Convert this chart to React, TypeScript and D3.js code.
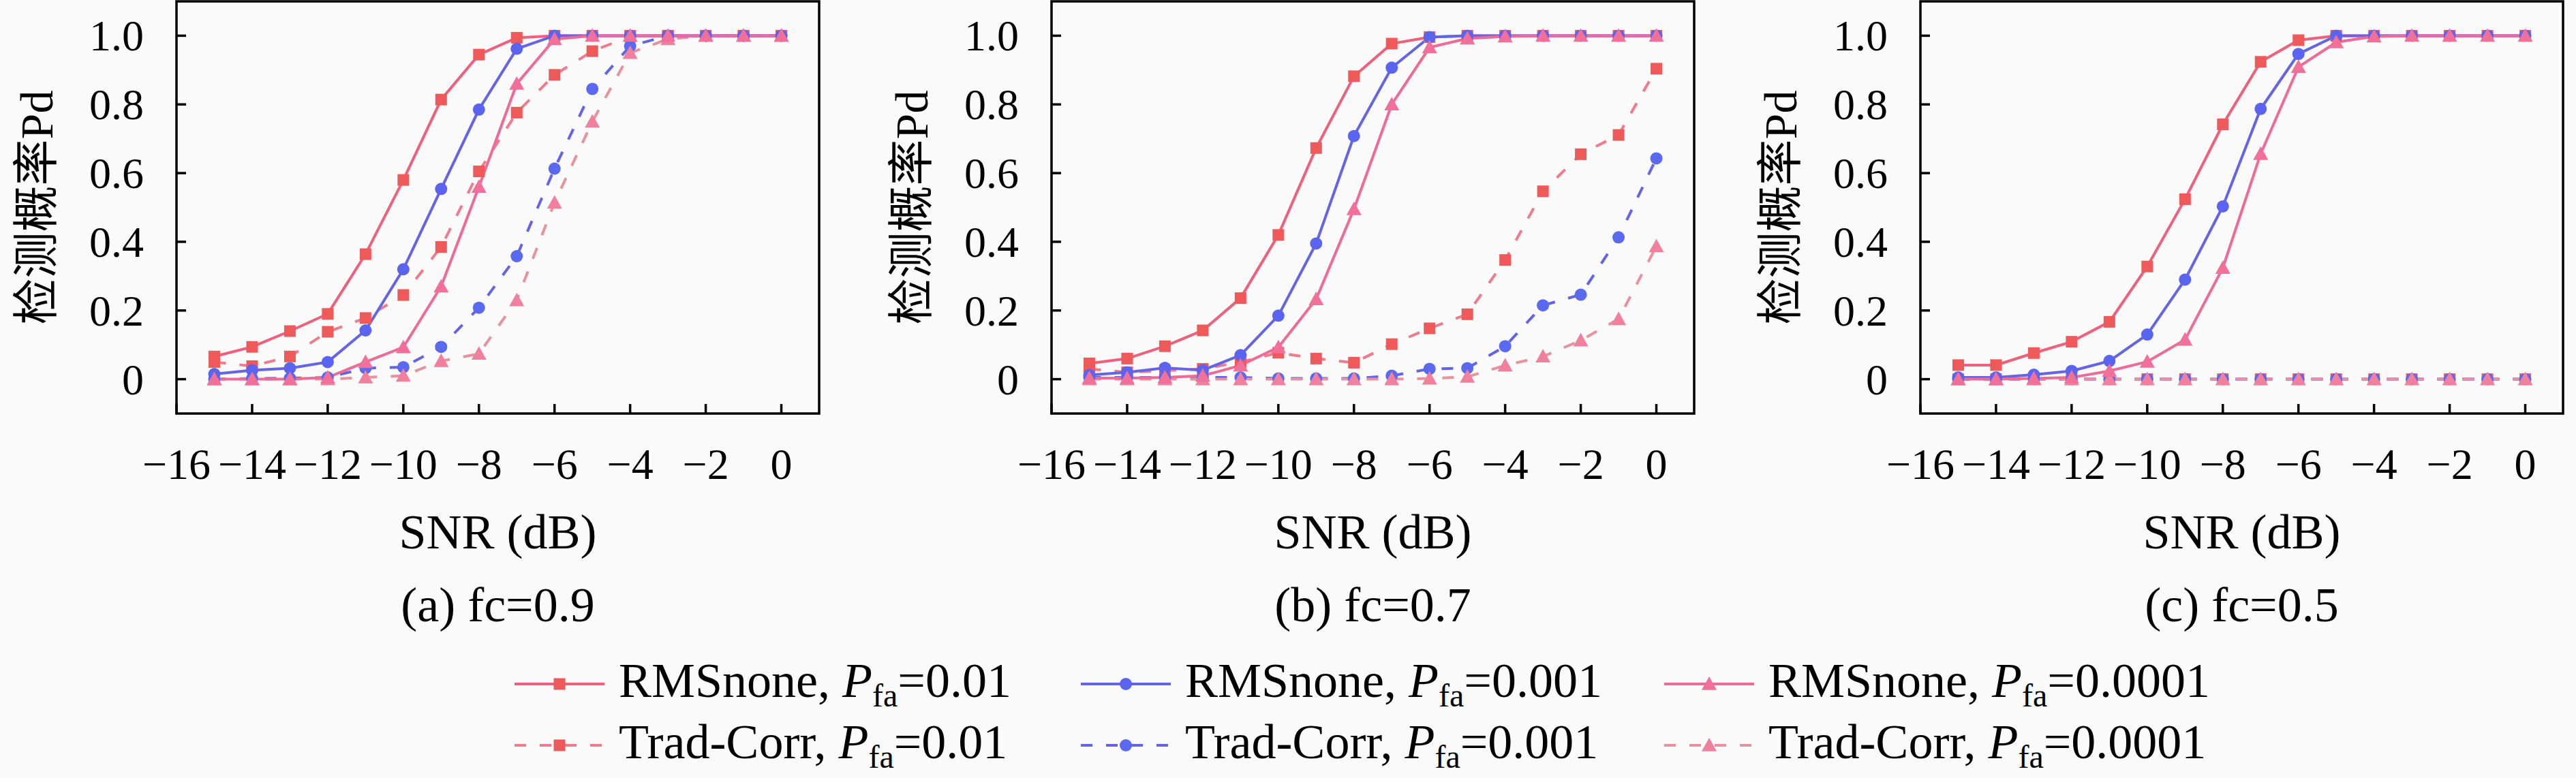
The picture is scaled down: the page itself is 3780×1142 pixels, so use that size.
import React from "react";
import * as d3 from "d3";

const W = 3780;
const H = 1142;

const snr = [-15, -14, -13, -12, -11, -10, -9, -8, -7, -6, -5, -4, -3, -2, -1, 0];
const xTicks = [-16, -14, -12, -10, -8, -6, -4, -2, 0];
const yTicks = [0, 0.2, 0.4, 0.6, 0.8, 1.0];

// Panel (a) fc=0.9
const aRms01 = [0.066, 0.094, 0.14, 0.19, 0.364, 0.58, 0.814, 0.945, 0.994, 1, 1, 1, 1, 1, 1, 1];
const aRms001 = [0.015, 0.026, 0.032, 0.05, 0.142, 0.32, 0.554, 0.785, 0.962, 1, 1, 1, 1, 1, 1, 1];
const aRms0001 = [0, 0, 0, 0.005, 0.05, 0.093, 0.27, 0.56, 0.86, 0.99, 1, 1, 1, 1, 1, 1];
const aTrad01 = [0.05, 0.038, 0.066, 0.138, 0.178, 0.245, 0.385, 0.605, 0.776, 0.886, 0.955, 0.998, 1, 1, 1, 1];
const aTrad001 = [0, 0.002, 0.003, 0.005, 0.032, 0.035, 0.094, 0.208, 0.358, 0.613, 0.845, 0.97, 1, 1, 1, 1];
const aTrad0001 = [0, 0, 0, 0, 0.005, 0.01, 0.053, 0.074, 0.23, 0.514, 0.75, 0.95, 0.99, 1, 1, 1];

// Panel (b) fc=0.7
const bRms01 = [0.046, 0.06, 0.096, 0.142, 0.236, 0.42, 0.673, 0.882, 0.977, 0.996, 1, 1, 1, 1, 1, 1];
const bRms001 = [0.012, 0.02, 0.033, 0.026, 0.07, 0.185, 0.395, 0.708, 0.907, 0.996, 1, 1, 1, 1, 1, 1];
const bRms0001 = [0.003, 0.003, 0.005, 0.01, 0.04, 0.093, 0.233, 0.495, 0.8, 0.966, 0.992, 0.998, 1, 1, 1, 1];
const bTrad01 = [0.03, 0.02, 0.025, 0.03, 0.05, 0.077, 0.06, 0.048, 0.102, 0.148, 0.189, 0.347, 0.547, 0.655, 0.711, 0.904];
const bTrad001 = [0.005, 0.005, 0.005, 0.005, 0.005, 0.002, 0.002, 0.002, 0.01, 0.03, 0.032, 0.096, 0.215, 0.246, 0.413, 0.643];
const bTrad0001 = [0, 0, 0, 0, 0, 0, 0, 0, 0, 0.002, 0.007, 0.04, 0.066, 0.113, 0.175, 0.387];

// Panel (c) fc=0.5
const cRms01 = [0.041, 0.041, 0.076, 0.109, 0.167, 0.328, 0.524, 0.742, 0.924, 0.987, 1, 1, 1, 1, 1, 1];
const cRms001 = [0.005, 0.005, 0.013, 0.024, 0.053, 0.13, 0.29, 0.503, 0.787, 0.947, 1, 1, 1, 1, 1, 1];
const cRms0001 = [0, 0, 0.002, 0.005, 0.024, 0.051, 0.115, 0.324, 0.656, 0.909, 0.981, 0.998, 1, 1, 1, 1];
const cTrad01 = [0, 0, 0, 0, 0, 0, 0, 0, 0, 0, 0, 0, 0, 0, 0, 0];
const cTrad001 = [0, 0, 0, 0, 0, 0, 0, 0, 0, 0, 0, 0, 0, 0, 0, 0];
const cTrad0001 = [0, 0, 0, 0, 0, 0, 0, 0, 0, 0, 0, 0, 0, 0, 0, 0];

const panelCaptions = ["(a) fc=0.9", "(b) fc=0.7", "(c) fc=0.5"];
const methodNames = ["RMSnone", "Trad-Corr"];
const pfaLabels = ["0.01", "0.001", "0.0001"];

type Style = { line: string; marker: string; shape: "square" | "circle" | "triangle"; dashed: boolean };
const styles: Style[] = [
  { line: "#F0607C", marker: "#EE5A5A", shape: "square", dashed: false },
  { line: "#6464E6", marker: "#5A64F0", shape: "circle", dashed: false },
  { line: "#F06A96", marker: "#F0709A", shape: "triangle", dashed: false },
  { line: "#EE7C8C", marker: "#EE5A5A", shape: "square", dashed: true },
  { line: "#6464E6", marker: "#5A6AF0", shape: "circle", dashed: true },
  { line: "#E8929E", marker: "#F0809E", shape: "triangle", dashed: true },
];

const panels = [
  [aRms01, aRms001, aRms0001, aTrad01, aTrad001, aTrad0001],
  [bRms01, bRms001, bRms0001, bTrad01, bTrad001, bTrad0001],
  [cRms01, cRms001, cRms0001, cTrad01, cTrad001, cTrad0001],
];

const panelLefts = [259, 1543, 2818];
const PW = 943;
const PT = 2;
const PB = 607;
const FONT = "'Liberation Serif', 'Noto Sans CJK SC', serif";
const DASH = "17,20";
const LABEL_SIZE = 72;

function Marker({ shape, x, y, color }: { shape: string; x: number; y: number; color: string }) {
  if (shape === "square") {
    return <rect x={x - 8.5} y={y - 8.5} width={17} height={17} fill={color} />;
  }
  if (shape === "circle") {
    return <circle cx={x} cy={y} r={9} fill={color} />;
  }
  const s = 11;
  return (
    <path
      d={`M${x},${y - s} L${x + s},${y + s * 0.8} L${x - s},${y + s * 0.8} Z`}
      fill={color}
    />
  );
}

function fmtY(d: number) {
  return d === 0 ? "0" : d.toFixed(1);
}
function fmtX(d: number) {
  return d < 0 ? "\u2212" + Math.abs(d) : String(d);
}

function Panel({ idx }: { idx: number }) {
  const left = panelLefts[idx];
  const x = d3.scaleLinear().domain([-16, 1]).range([left, left + PW]);
  const y = d3.scaleLinear().domain([-0.1, 1.1]).range([PB, PT]);
  const line = d3
    .line<number>()
    .x((_, i) => x(snr[i]))
    .y((d) => y(d));
  const series = panels[idx];
  const order = [3, 4, 5, 0, 1, 2];
  const cx = left + PW / 2;
  return (
    <g>
      {order.map((si) => (
        <path
          key={"l" + si}
          d={line(series[si]) || ""}
          fill="none"
          stroke={styles[si].line}
          strokeWidth={4}
          strokeDasharray={styles[si].dashed ? DASH : undefined}
        />
      ))}
      {order.map((si) => (
        <g key={"m" + si}>
          {series[si].map((v, i) => (
            <Marker key={i} shape={styles[si].shape} x={x(snr[i])} y={y(v)} color={styles[si].marker} />
          ))}
        </g>
      ))}
      <rect x={left} y={PT} width={PW} height={PB - PT} fill="none" stroke="#000" strokeWidth={3.5} />
      {xTicks.map((t) => (
        <g key={"xt" + t}>
          <line x1={x(t)} x2={x(t)} y1={PB} y2={PB - 14} stroke="#000" strokeWidth={3.5} />
          <text x={x(t)} y={703} textAnchor="middle" fontSize={64} fontFamily={FONT} fill="#000">
            {fmtX(t)}
          </text>
        </g>
      ))}
      {yTicks.map((t) => (
        <g key={"yt" + t}>
          <line x1={left} x2={left + 14} y1={y(t)} y2={y(t)} stroke="#000" strokeWidth={3.5} />
          <text x={left - 48} y={y(t) + 22} textAnchor="end" fontSize={64} fontFamily={FONT} fill="#000">
            {fmtY(t)}
          </text>
        </g>
      ))}
      <text
        transform={`translate(${left - 182},${(PT + PB) / 2}) rotate(-90)`}
        textAnchor="middle"
        fontSize={68}
        fontFamily={FONT}
        fill="#000"
      >
        检测概率Pd
      </text>
      <text x={cx} y={805} textAnchor="middle" fontSize={LABEL_SIZE} fontFamily={FONT} fill="#000">
        SNR (dB)
      </text>
      <text x={cx} y={912} textAnchor="middle" fontSize={LABEL_SIZE} fontFamily={FONT} fill="#000">
        {panelCaptions[idx]}
      </text>
    </g>
  );
}

const legendCols = [755, 1586, 2442];
const legendRows = [1004, 1094];

function Legend() {
  const items: React.ReactNode[] = [];
  methodNames.forEach((m, r) => {
    pfaLabels.forEach((p, c) => {
      const si = r * 3 + c;
      const st = styles[si];
      const x0 = legendCols[c];
      const ly = legendRows[r];
      items.push(
        <g key={si}>
          <line
            x1={x0}
            x2={x0 + 132}
            y1={ly}
            y2={ly}
            stroke={st.line}
            strokeWidth={4}
            strokeDasharray={st.dashed ? DASH : undefined}
          />
          <Marker shape={st.shape} x={x0 + 66} y={ly} color={st.marker} />
          <text x={x0 + 153} y={ly + 19} fontSize={LABEL_SIZE} fontFamily={FONT} fill="#000">
            {m + ", "}
            <tspan fontStyle="italic">P</tspan>
            <tspan fontSize={48} dy={14}>fa</tspan>
            <tspan dy={-14}>{"=" + p}</tspan>
          </text>
        </g>
      );
    });
  });
  return <g>{items}</g>;
}

export default function App() {
  return (
    <svg
      width={W}
      height={H}
      viewBox={`0 0 ${W} ${H}`}
      style={{ position: "absolute", left: 0, top: 0, background: "#fafafa" }}
    >
      <rect x={0} y={0} width={W} height={H} fill="#fafafa" />
      {[0, 1, 2].map((i) => (
        <Panel key={i} idx={i} />
      ))}
      <Legend />
    </svg>
  );
}
